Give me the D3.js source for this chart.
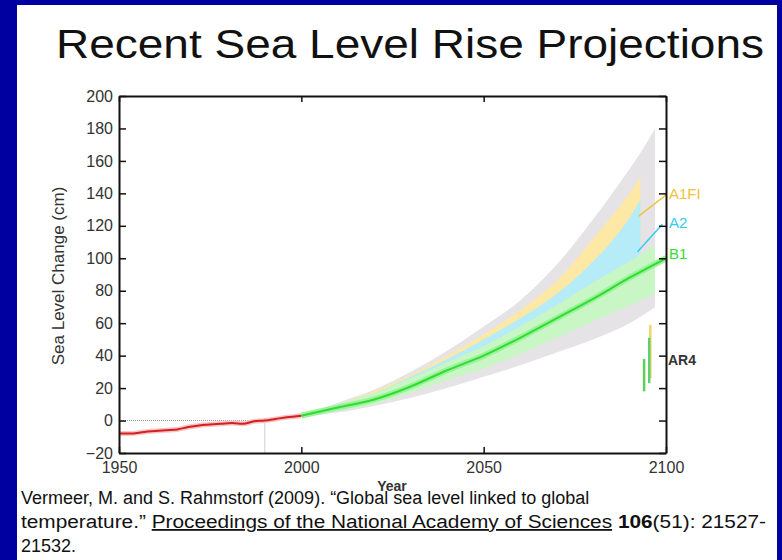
<!DOCTYPE html>
<html>
<head>
<meta charset="utf-8">
<script src="https://cdn.jsdelivr.net/npm/d3@7"></script>
<style>
  body { margin: 0; background: #0000a0; }
  svg { display: block; }
  text { font-family: Arial, "Liberation Sans", sans-serif; }
</style>
</head>
<body>
<div id="chart"></div>
<script>
const W = 782, H = 560;

// observed sea level (cm), 1950-2000
const obsYears = [1950, 1953, 1957, 1960, 1963, 1966, 1969, 1972, 1975, 1978, 1981, 1984, 1987, 1990, 1993, 1996, 2000];
const obsLevel = [-8, -8, -7, -6.5, -6, -5.5, -4, -3, -2.5, -2, -1.5, -2, -0.5, 0, 1, 2, 3];

// projections, 2000-2100
const projYears = [2000, 2010, 2020, 2030, 2040, 2050, 2060, 2070, 2080, 2090, 2093, 2097];
const totalLo = [3, 5, 9, 14, 20, 27, 34, 42, 50, 60, 64, 70];
const totalHi = [3, 11, 19, 30, 43, 58, 74, 96, 124, 155, 165, 180];
const a1fiLo = [3, 8, 13, 21, 31, 41, 53, 66, 82, 100, 106, null];
const a1fiHi = [3, 10, 18, 28, 40, 53, 68, 86, 112, 140, 150, 163];
const a2Lo = [3, 7, 12, 19, 28, 37, 47, 58, 72, 90, 104, null];
const a2Hi = [3, 10, 17, 27, 38, 50, 63, 78, 98, 125, 136, null];
const b1Lo = [3, 6, 10, 17, 25, 32, 41, 51, 61, 71, 74, 78];
const b1Hi = [3, 10, 17, 26, 36, 46, 58, 71, 85, 98, 102, 108];
const b1Years = [2000, 2010, 2020, 2030, 2040, 2050, 2060, 2070, 2080, 2090, 2100];
const b1Mid = [3, 8, 13, 21, 31, 40, 51, 63, 75, 88, 100];

// AR4 ranges at the right edge
const ar4Names = ["B1", "A1FI", "A2"];
const ar4Years = [2094, 2095.7, 2095.4];
const ar4Lo = [18, 26, 23];
const ar4Hi = [38, 59, 51];

// scenario labels
const scenNames = ["A1FI", "A2", "B1"];
const scenLabelValue = [140, 122, 103];
const scenLeadFrom = [[2092.5, 126], [2092.2, 104], null];
const scenLeadTo = [[2100, 139], [2099, 121], null];

const xTicks = [1950, 2000, 2050, 2100];
const yTicks = [-20, 0, 20, 40, 60, 80, 100, 120, 140, 160, 180, 200];

const svg = d3.select("#chart").append("svg")
    .attr("width", W)
    .attr("height", H);

svg.append("rect")
    .attr("x", 17).attr("y", 5)
    .attr("width", 760).attr("height", H - 5)
    .attr("fill", "#fff");

svg.append("text")
    .attr("x", 56).attr("y", 58)
    .attr("font-size", 40)
    .attr("textLength", 708)
    .attr("lengthAdjust", "spacingAndGlyphs")
    .attr("fill", "#111")
    .text("Recent Sea Level Rise Projections");

const x = d3.scaleLinear().domain([1950, 2100]).range([119, 666]);
const y = d3.scaleLinear().domain([-20, 200]).range([453, 96]);

const colors = {total: "#e6e3e6", a1fi: "#fde8a6", a2: "#b6ebf8", b1: "#c8f6c4"};

function band(lo, hi, fill) {
    const rows = projYears.map((yr, i) => ({yr, lo: lo[i], hi: hi[i]}));
    const area = d3.area()
        .defined(d => d.lo != null && d.hi != null)
        .x(d => x(d.yr))
        .y0(d => y(d.lo))
        .y1(d => y(d.hi))
        .curve(d3.curveMonotoneX);
    svg.append("path")
        .datum(rows)
        .attr("fill", fill)
        .attr("d", area);
}

band(totalLo, totalHi, colors.total);
band(a1fiLo, a1fiHi, colors.a1fi);
band(a2Lo, a2Hi, colors.a2);
band(b1Lo, b1Hi, colors.b1);

// dotted reference lines at 1990 / 0 cm
svg.append("line")
    .attr("x1", x(1950)).attr("x2", x(1990))
    .attr("y1", y(0)).attr("y2", y(0))
    .attr("stroke", "#999").attr("stroke-width", 1)
    .attr("stroke-dasharray", "1,1");
svg.append("line")
    .attr("x1", x(1990)).attr("x2", x(1990))
    .attr("y1", y(0)).attr("y2", y(-20))
    .attr("stroke", "#999").attr("stroke-width", 1)
    .attr("stroke-dasharray", "1,1");

const line = d3.line()
    .x(d => x(d[0]))
    .y(d => y(d[1]))
    .curve(d3.curveMonotoneX);

const b1Pts = b1Years.map((yr, i) => [yr, b1Mid[i]]);
svg.append("path")
    .datum(b1Pts)
    .attr("fill", "none")
    .attr("stroke", "#9cf29c")
    .attr("stroke-width", 6)
    .attr("d", line);
svg.append("path")
    .datum(b1Pts)
    .attr("fill", "none")
    .attr("stroke", "#2fdc2f")
    .attr("stroke-width", 2)
    .attr("d", line);

const obsPts = obsYears.map((yr, i) => [yr, obsLevel[i]]);
svg.append("path")
    .datum(obsPts)
    .attr("fill", "none")
    .attr("stroke", "#f6c6c6")
    .attr("stroke-width", 5)
    .attr("d", line);
svg.append("path")
    .datum(obsPts)
    .attr("fill", "none")
    .attr("stroke", "#d42020")
    .attr("stroke-width", 2)
    .attr("d", line);

// AR4 bars
const ar4Color = {B1: "#5fcf5f", A1FI: "#f3d36a", A2: "#5fcf6f"};
ar4Names.forEach((n, i) => {
    svg.append("line")
        .attr("x1", x(ar4Years[i])).attr("x2", x(ar4Years[i]))
        .attr("y1", y(ar4Lo[i])).attr("y2", y(ar4Hi[i]))
        .attr("stroke", ar4Color[n])
        .attr("stroke-width", 2.5);
});

// scenario labels
const scenColor = {A1FI: "#f0c23a", A2: "#33cdf0", B1: "#33dd33"};
scenNames.forEach((n, i) => {
    if (scenLeadFrom[i]) {
        svg.append("line")
            .attr("x1", x(scenLeadFrom[i][0])).attr("y1", y(scenLeadFrom[i][1]))
            .attr("x2", x(scenLeadTo[i][0])).attr("y2", y(scenLeadTo[i][1]))
            .attr("stroke", scenColor[n]).attr("stroke-width", 1.5);
    }
    svg.append("text")
        .attr("x", x(2100) + 3)
        .attr("y", y(scenLabelValue[i]))
        .attr("dy", "0.35em")
        .attr("font-size", 15)
        .attr("fill", scenColor[n])
        .text(n);
});
svg.append("text")
    .attr("x", x(2100) + 2)
    .attr("y", y(37))
    .attr("dy", "0.35em")
    .attr("font-size", 14)
    .attr("font-weight", "bold")
    .attr("fill", "#333")
    .text("AR4");

// axes, ticks point inward
const gL = svg.append("g")
    .attr("transform", "translate(" + x(1950) + ",0)")
    .call(d3.axisLeft(y).tickValues(yTicks).tickSizeInner(-7).tickSizeOuter(0).tickPadding(6));
const gR = svg.append("g")
    .attr("transform", "translate(" + x(2100) + ",0)")
    .call(d3.axisRight(y).tickValues(yTicks).tickSizeInner(-7).tickSizeOuter(0).tickFormat(""));
const gB = svg.append("g")
    .attr("transform", "translate(0," + y(-20) + ")")
    .call(d3.axisBottom(x).tickValues(xTicks).tickSizeInner(-6).tickSizeOuter(0).tickPadding(9).tickFormat(d3.format("d")));
const gT = svg.append("g")
    .attr("transform", "translate(0," + y(200) + ")")
    .call(d3.axisTop(x).tickValues(xTicks).tickSizeInner(-6).tickSizeOuter(0).tickFormat(""));

[gL, gR, gB, gT].forEach(g => {
    g.select(".domain").attr("stroke", "#111").attr("stroke-width", 2);
    g.selectAll(".tick line").attr("stroke", "#111").attr("stroke-width", 1.5);
    g.selectAll(".tick text")
        .attr("font-family", "Arial, 'Liberation Sans', sans-serif")
        .attr("font-size", 16)
        .attr("fill", "#333");
});

svg.append("text")
    .attr("transform", "translate(64,276) rotate(-90)")
    .attr("text-anchor", "middle")
    .attr("font-size", 17)
    .attr("fill", "#333")
    .text("Sea Level Change (cm)");

svg.append("text")
    .attr("x", 392).attr("y", 491)
    .attr("text-anchor", "middle")
    .attr("font-size", 14)
    .attr("font-weight", "bold")
    .attr("fill", "#333")
    .text("Year");

// citation
const cite = svg.append("g").attr("font-size", 18).attr("fill", "#111");
cite.append("text").attr("x", 21).attr("y", 504)
    .text("Vermeer, M. and S. Rahmstorf (2009). \u201cGlobal sea level linked to global");
const l2 = cite.append("text").attr("x", 21).attr("y", 528)
    .attr("textLength", 745)
    .attr("lengthAdjust", "spacingAndGlyphs");
l2.append("tspan").text("temperature.\u201d ");
l2.append("tspan").attr("text-decoration", "underline").text("Proceedings of the National Academy of Sciences");
l2.append("tspan").text(" ");
l2.append("tspan").attr("font-weight", "bold").text("106");
l2.append("tspan").text("(51): 21527-");
cite.append("text").attr("x", 21).attr("y", 552).text("21532.");
</script>
</body>
</html>
